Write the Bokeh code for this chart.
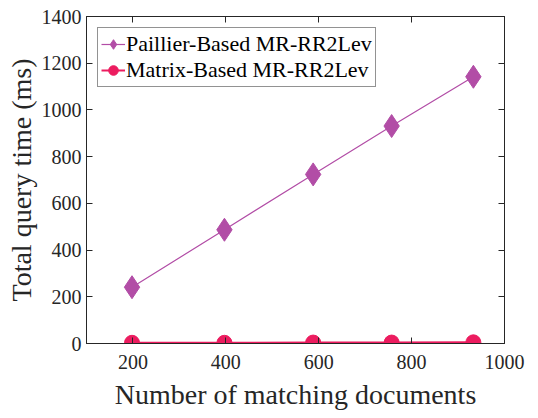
from bokeh.plotting import figure
from bokeh.models import LinearAxis, Range1d, Legend, LegendItem, FixedTicker
from bokeh.embed import file_html
from bokeh.resources import INLINE

x_docs = [198, 397, 588, 757, 933]
paillier = [241, 487, 724, 931, 1142]
matrix = [3, 3, 4, 4, 5]
x_ticks = [200, 400, 600, 800, 1000]
y_ticks = [0, 200, 400, 600, 800, 1000, 1200, 1400]

FONT = "Liberation Serif"
PURPLE = "#B24DA6"
PINK = "#EC1C5F"

p = figure(width=530, height=414, output_backend="svg", toolbar_location=None,
           x_range=Range1d(100, 1000), y_range=Range1d(0, 1400),
           min_border_left=86, min_border_right=26, min_border_top=16, min_border_bottom=71)
p.grid.visible = False
p.outline_line_color = "#262626"
p.outline_line_width = 1
p.background_fill_color = "white"
p.border_fill_color = "white"

for ax in (p.xaxis[0], p.yaxis[0]):
    ax.major_label_text_font = FONT
    ax.major_label_text_font_size = "20px"
    ax.major_label_text_color = "#262626"
    ax.axis_label_text_font = FONT
    ax.axis_label_text_font_size = "28px"
    ax.axis_label_text_font_style = "normal"
    ax.axis_label_text_color = "#262626"
    ax.major_tick_in = 6
    ax.major_tick_out = 0
    ax.minor_tick_line_color = None
    ax.axis_line_color = "#262626"
    ax.major_tick_line_color = "#262626"
p.xaxis[0].ticker = FixedTicker(ticks=x_ticks)
p.yaxis[0].ticker = FixedTicker(ticks=y_ticks)
p.xaxis[0].axis_label = "Number of matching documents"
p.yaxis[0].axis_label = "Total query time (ms)"
p.xaxis[0].major_label_standoff = 11
p.yaxis[0].major_label_standoff = 5
p.xaxis[0].axis_label_standoff = 7
p.yaxis[0].axis_label_standoff = 2

top = LinearAxis(ticker=FixedTicker(ticks=x_ticks), major_label_text_font_size="0px",
                 major_label_standoff=0,
                 major_tick_in=6, major_tick_out=0, minor_tick_line_color=None,
                 axis_line_color="#262626", major_tick_line_color="#262626")
right = LinearAxis(ticker=FixedTicker(ticks=y_ticks), major_label_text_font_size="0px",
                   major_label_standoff=0,
                   major_tick_in=6, major_tick_out=0, minor_tick_line_color=None,
                   axis_line_color="#262626", major_tick_line_color="#262626")
top.major_label_text_color = None
right.major_label_text_color = None
p.add_layout(top, "above")
p.add_layout(right, "right")

l1 = p.line(x_docs, paillier, line_color=PURPLE, line_width=1.2)
m1 = p.scatter(x_docs, paillier, marker="diamond", size=23, fill_color=PURPLE, line_color=PURPLE)
l2 = p.line(x_docs, matrix, line_color=PINK, line_width=2)
m2 = p.scatter(x_docs, matrix, marker="circle", size=15, fill_color=PINK, line_color=PINK)

legend = Legend(items=[LegendItem(label="Paillier-Based MR-RR2Lev", renderers=[l1, m1]),
                       LegendItem(label="Matrix-Based MR-RR2Lev", renderers=[l2, m2])],
                location="top_left")
legend.label_text_font = FONT
legend.label_text_font_size = "22px"
legend.label_text_color = "black"
legend.border_line_color = "#262626"
legend.border_line_width = 1
legend.margin = 11
legend.padding = 3
legend.spacing = 0
legend.glyph_width = 24
legend.glyph_height = 26
legend.label_standoff = 1
legend.label_height = 26
p.add_layout(legend)

open("out.html", "w").write(file_html(p, INLINE))
